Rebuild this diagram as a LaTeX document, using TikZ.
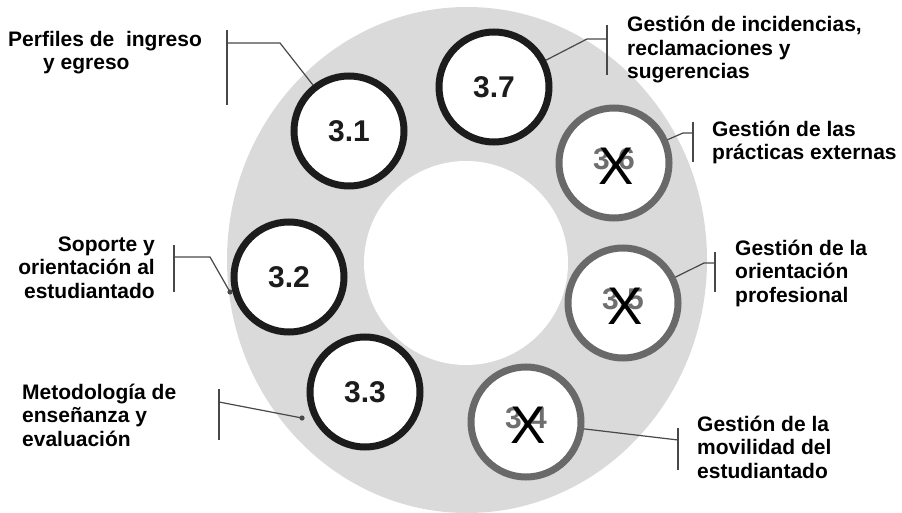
\documentclass[tikz,border=0pt]{standalone}
\usepackage{fontspec}
\setmainfont{Liberation Sans}
\usetikzlibrary{calc}
\definecolor{bandgray}{RGB}{218,218,218}
\definecolor{ringdark}{RGB}{28,28,28}
\definecolor{ringlight}{RGB}{105,105,105}
\definecolor{numlight}{RGB}{110,110,110}
\definecolor{leadcol}{RGB}{72,72,72}
\tikzset{
  ringbk/.style={circle, draw=ringdark, line width=7pt, fill=white, minimum size=110pt, inner sep=0pt,
    font=\fontsize{30}{30}\selectfont\bfseries, text=ringdark},
  ringgy/.style={circle, draw=ringlight, line width=7pt, fill=white, minimum size=110pt, inner sep=0pt},
  numgy/.style={inner sep=0pt, font=\fontsize{30}{30}\selectfont\bfseries, text=numlight},
  crossmark/.style={inner sep=0pt, font=\fontsize{53}{53}\selectfont, text=black},
  lbl/.style={inner sep=0pt, font=\fontsize{21}{23.5}\selectfont\bfseries, text=black},
  lead/.style={draw=leadcol, line width=1.2pt},
  tipdot/.style={fill=leadcol, draw=none},
}
\begin{document}
\begin{tikzpicture}[x=1pt, y=-1pt]
\useasboundingbox (0,0) rectangle (902,513);
% grey band with a white hole
\fill[bandgray] (467,260) ellipse [x radius=240, y radius=253];
\fill[white] (466,263) circle [radius=102];

% ring positions
\coordinate (p31) at (349,131);
\coordinate (p37) at (494,87);
\coordinate (p36) at (614,163);
\coordinate (p32) at (289,277);
\coordinate (p35) at (623,303);
\coordinate (p33) at (365,392);
\coordinate (p34) at (526,422);

% bracket bars and bends of the leaders
\coordinate (b31a) at (227,30);  \coordinate (b31b) at (227,105); \coordinate (h31) at (227,43);  \coordinate (k31) at (280,43);
\coordinate (b37a) at (607,25);  \coordinate (b37b) at (607,75);  \coordinate (h37) at (607,39);  \coordinate (k37) at (587,39);
\coordinate (b36a) at (693,122); \coordinate (b36b) at (693,162); \coordinate (h36) at (693,133); \coordinate (k36) at (683,133);
\coordinate (b35a) at (715,252); \coordinate (b35b) at (715,292); \coordinate (h35) at (715,263); \coordinate (k35) at (704,263);
\coordinate (b34a) at (678,428); \coordinate (b34b) at (678,470); \coordinate (h34) at (678,440);
\coordinate (b32a) at (174,245); \coordinate (b32b) at (174,292); \coordinate (h32) at (174,257); \coordinate (k32) at (210,257);
\coordinate (b33a) at (219,389); \coordinate (b33b) at (219,440); \coordinate (h33) at (219,402);
\coordinate (d32) at (230,292);
\coordinate (d33) at (302,418);

% leaders (drawn first so the rings sit on top)
\draw[lead] (b31a) -- (b31b);
\draw[lead] (h31) -- (k31) -- (p31);
\draw[lead] (b37a) -- (b37b);
\draw[lead] (h37) -- (k37) -- (p37);
\draw[lead] (b36a) -- (b36b);
\draw[lead] (h36) -- (k36) -- (p36);
\draw[lead] (b35a) -- (b35b);
\draw[lead] (h35) -- (k35) -- (p35);
\draw[lead] (b34a) -- (b34b);
\draw[lead] (h34) -- (p34);
\draw[lead] (b32a) -- (b32b);
\draw[lead] (h32) -- (k32) -- (d32);
\draw[lead] (b33a) -- (b33b);
\draw[lead] (h33) -- (d33);
\fill[tipdot] (d32) circle [radius=2.6];
\fill[tipdot] (d33) circle [radius=2.6];

% active rings
\node[ringbk] (c31) at (p31) {3.1};
\node[ringbk] (c37) at (p37) {3.7};
\node[ringbk] (c32) at (p32) {3.2};
\node[ringbk] (c33) at (p33) {3.3};

% crossed-out rings
\node[ringgy] (c36) at (p36) {};
\node[ringgy] (c35) at (p35) {};
\node[ringgy] (c34) at (p34) {};
\node[numgy] (n36) at ($(c36.center)+(0,-4)$) {3.6};
\node[numgy] (n35) at ($(c35.center)+(0,-4)$) {3.5};
\node[numgy] (n34) at ($(c34.center)+(0,-4)$) {3.4};
\node[crossmark] (x36) at ($(c36.center)+(2,3)$) {X};
\node[crossmark] (x35) at ($(c35.center)+(2,3)$) {X};
\node[crossmark] (x34) at ($(c34.center)+(2,3)$) {X};

% labels (base = baseline of the last line)
\node[lbl, anchor=base west, align=left] (t31) at (8,70) {Perfiles de~~ingreso\\\hspace*{35pt}y egreso};
\node[lbl, anchor=base east, align=right] (t32) at (155,298) {Soporte y\\orientación al\\estudiantado};
\node[lbl, anchor=base west, align=left] (t33) at (22,446) {Metodología de\\enseñanza y\\evaluación};
\node[lbl, anchor=base west, align=left] (t37) at (627,79) {Gestión de incidencias,\\reclamaciones y\\sugerencias};
\node[lbl, anchor=base west, align=left] (t36) at (712,160) {Gestión de las\\prácticas externas};
\node[lbl, anchor=base west, align=left] (t35) at (735,302) {Gestión de la\\orientación\\profesional};
\node[lbl, anchor=base west, align=left] (t34) at (697,478) {Gestión de la\\movilidad del\\estudiantado};
\end{tikzpicture}
\end{document}
